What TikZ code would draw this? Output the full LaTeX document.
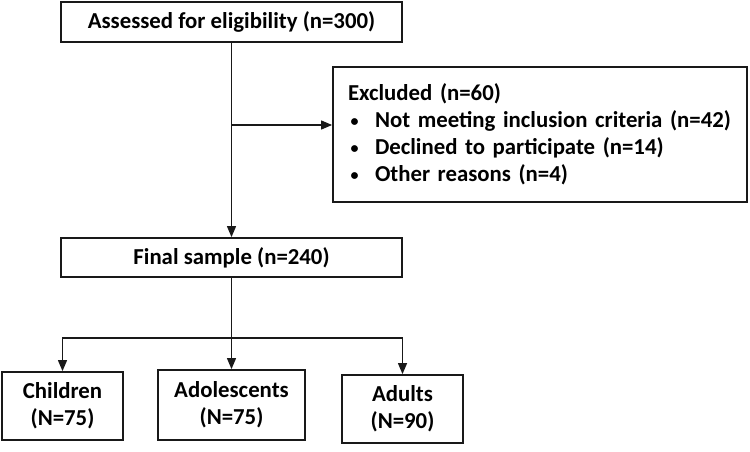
\documentclass[tikz,border=0pt]{standalone}
\usepackage{fontspec}
\setmainfont{Carlito}
\usetikzlibrary{arrows.meta}
\newcommand{\smallbul}{\makebox[27pt][l]{\hspace{2.5pt}\raisebox{1.5pt}{\fontsize{16}{16}\selectfont\textbullet}}}
\begin{document}
\begin{tikzpicture}[x=1pt,y=-1pt,
  box/.style={draw=black!90,line width=1.8pt,fill=white,inner sep=0pt,align=center,
    font=\fontsize{22.8}{27}\selectfont\bfseries},
  arr/.style={draw=black!90,line width=1.2pt,-{Triangle[length=11pt,width=9pt]}},
  conn/.style={draw=black!90,line width=1.2pt}]
\fill[white] (0,0) rectangle (750,452);
\useasboundingbox (0,0) rectangle (750,452);
\node[box,minimum width=341pt,minimum height=40pt] (top) at (231.5,22) {Assessed for eligibility (n=300)};
\node[box,minimum width=414pt,minimum height=135pt,align=left,text width=384pt] (excl) at (540,134.5)
 {Excluded (n=60)\\
  \smallbul Not meeting inclusion criteria (n=42)\\
  \smallbul Declined to participate (n=14)\\
  \smallbul Other reasons (n=4)};
\node[box,minimum width=341pt,minimum height=39pt] (final) at (231.5,257.5) {Final sample (n=240)};
\node[box,minimum width=121pt,minimum height=68pt] (child) at (62.5,406) {Children\\(N=75)};
\node[box,minimum width=147pt,minimum height=70pt] (adol) at (231.5,405) {Adolescents\\(N=75)};
\node[box,minimum width=121pt,minimum height=68pt] (adult) at (402.5,409) {Adults\\(N=90)};
\coordinate (branch) at (231.5,125);
\coordinate (split) at (231.5,338);
\draw[arr] (top.south) -- (final.north);
\draw[arr] (branch) -- (branch -| excl.west);
\draw[arr] (final.south) -- (adol.north);
\draw[arr] (split) -| (child.north);
\draw[arr] (split) -| (adult.north);
\end{tikzpicture}
\end{document}
